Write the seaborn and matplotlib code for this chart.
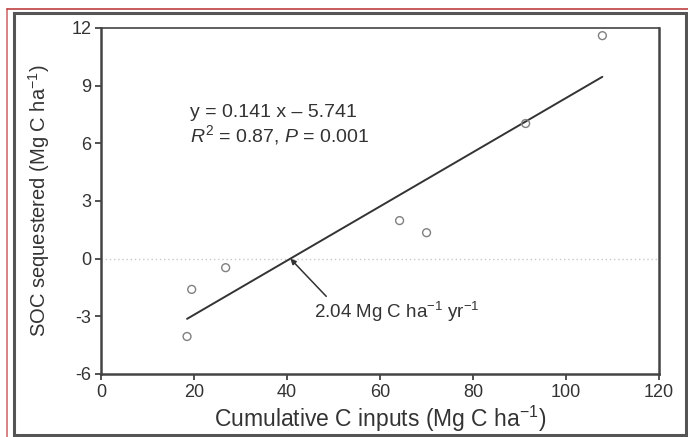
import numpy as np
import pandas as pd
import matplotlib
matplotlib.use("Agg")
import matplotlib.pyplot as plt
import seaborn as sb
from matplotlib.patches import Rectangle
from matplotlib.lines import Line2D

# points
c_inputs = [18.5, 19.5, 26.8, 64.2, 70.0, 91.3, 107.8]
soc_seq = [-4.05, -1.6, -0.47, 1.98, 1.35, 7.03, 11.6]
slope = 0.141
intercept = -5.741
xticks = [0, 20, 40, 60, 80, 100, 120]
yticks = [-6, -3, 0, 3, 6, 9, 12]

df = pd.DataFrame({"x": c_inputs, "y": soc_seq})

sb.set_style("ticks")
plt.rcParams['font.family'] = ['Liberation Sans', 'DejaVu Sans']
plt.rcParams['axes.unicode_minus'] = False
plt.rcParams['mathtext.fontset'] = 'custom'
plt.rcParams['mathtext.rm'] = 'Liberation Sans'
plt.rcParams['mathtext.it'] = 'Liberation Sans:italic'

fig = plt.figure(figsize=(6.88, 4.37), dpi=100)
ax = fig.add_axes([0.1468, 0.1442, 0.8112, 0.7918])

# outer frame of the figure
fig.patches.append(Rectangle((14 / 688, 2 / 437), 672 / 688, 422 / 437, transform=fig.transFigure,
                             fill=False, ec='#555555', lw=2.2))
fig.lines.append(Line2D([7 / 688, 7 / 688], [0, 428 / 437], transform=fig.transFigure, color='#d07070', lw=1.2))
fig.lines.append(Line2D([7 / 688, 1], [428 / 437, 428 / 437], transform=fig.transFigure, color='#c04040', lw=1.2))

ax.axhline(0, color='#c8c8c8', lw=1.0, ls=(0, (1, 2)), zorder=0)

sb.scatterplot(data=df, x="x", y="y", ax=ax, marker='o', s=32,
               facecolor='none', edgecolor='#808080', linewidth=1.0, zorder=3)

xl = np.array([min(c_inputs), max(c_inputs)])
sb.lineplot(x=xl, y=slope * xl + intercept, ax=ax, color='#333333', lw=1.4)

ax.set_xlim(0, 120)
ax.set_ylim(-6, 12)
ax.set_xticks(xticks)
ax.set_yticks(yticks)
ax.tick_params(labelsize=13, length=4, width=1.2, color='#333333', labelcolor='#333333',
               direction='out', pad=3)
for s in ax.spines.values():
    s.set_color('#444444')
    s.set_linewidth(1.2)
ax.spines['left'].set_linewidth(1.8)
ax.spines['bottom'].set_linewidth(1.8)
ax.spines['right'].set_linewidth(1.8)

ax.set_xlabel("Cumulative C inputs (Mg C ha$^{-1}$)", fontsize=16.5, color='#333333', labelpad=2)
ax.set_ylabel("SOC sequestered (Mg C ha$^{-1}$)", fontsize=14.5, color='#333333', labelpad=14)

ax.text(19.1, 7.6, "y = 0.141 x \u2013 5.741", fontsize=14, color='#333333', va='center')
ax.text(19.1, 6.45, "$R^2$ = 0.87, $P$ = 0.001", fontsize=14, color='#333333', va='center')

x0 = -intercept / slope
ax.annotate("2.04 Mg C ha$^{-1}$ yr$^{-1}$", xy=(x0, 0), xytext=(45.9, -2.76),
            fontsize=13.5, color='#333333', va='center',
            arrowprops=dict(arrowstyle='-|>', color='#333333', lw=1.1, shrinkA=0, shrinkB=0,
                            mutation_scale=8, relpos=(0.09, 1.0)))

plt.savefig("out.png", dpi=100)
